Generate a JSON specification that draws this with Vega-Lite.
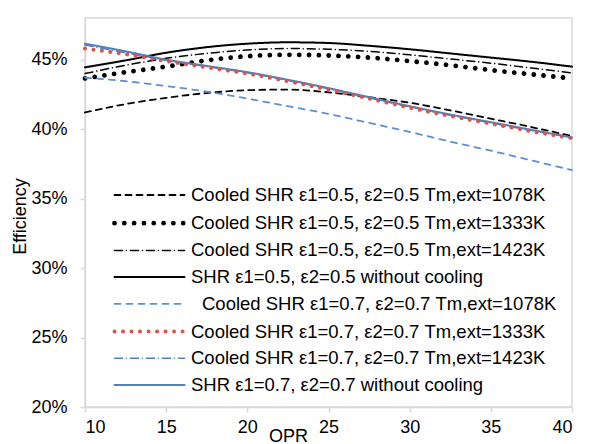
{
  "$schema": "https://vega.github.io/schema/vega-lite/v6.json",
  "width": 487,
  "height": 389,
  "autosize": {"type": "none"},
  "padding": {"left": 85, "top": 18, "right": 19, "bottom": 37},
  "background": "white",
  "config": {
    "view": {"stroke": "#d9d9d9", "strokeWidth": 1.5},
    "font": "Liberation Sans",
    "axis": {
      "grid": false,
      "domainColor": "#d9d9d9",
      "domainWidth": 1.5,
      "tickColor": "#d9d9d9",
      "tickWidth": 1.5,
      "tickSize": 5,
      "labelFont": "Liberation Sans",
      "labelFontSize": 18,
      "labelColor": "#000000",
      "titleFont": "Liberation Sans",
      "titleFontSize": 18,
      "titleFontWeight": "normal",
      "titleColor": "#000000"
    }
  },
  "data": {
    "values": [
      {"opr": 10, "eff": 0.4120, "series": "Cooled SHR ε1=0.5, ε2=0.5 Tm,ext=1078K"},
      {"opr": 12.5, "eff": 0.4180, "series": "Cooled SHR ε1=0.5, ε2=0.5 Tm,ext=1078K"},
      {"opr": 15, "eff": 0.4225, "series": "Cooled SHR ε1=0.5, ε2=0.5 Tm,ext=1078K"},
      {"opr": 17.5, "eff": 0.4260, "series": "Cooled SHR ε1=0.5, ε2=0.5 Tm,ext=1078K"},
      {"opr": 20, "eff": 0.4280, "series": "Cooled SHR ε1=0.5, ε2=0.5 Tm,ext=1078K"},
      {"opr": 22.5, "eff": 0.4285, "series": "Cooled SHR ε1=0.5, ε2=0.5 Tm,ext=1078K"},
      {"opr": 25, "eff": 0.4265, "series": "Cooled SHR ε1=0.5, ε2=0.5 Tm,ext=1078K"},
      {"opr": 27.5, "eff": 0.4230, "series": "Cooled SHR ε1=0.5, ε2=0.5 Tm,ext=1078K"},
      {"opr": 30, "eff": 0.4190, "series": "Cooled SHR ε1=0.5, ε2=0.5 Tm,ext=1078K"},
      {"opr": 32.5, "eff": 0.4135, "series": "Cooled SHR ε1=0.5, ε2=0.5 Tm,ext=1078K"},
      {"opr": 35, "eff": 0.4075, "series": "Cooled SHR ε1=0.5, ε2=0.5 Tm,ext=1078K"},
      {"opr": 37.5, "eff": 0.4015, "series": "Cooled SHR ε1=0.5, ε2=0.5 Tm,ext=1078K"},
      {"opr": 40, "eff": 0.3950, "series": "Cooled SHR ε1=0.5, ε2=0.5 Tm,ext=1078K"},

      {"opr": 10, "eff": 0.4365, "series": "Cooled SHR ε1=0.5, ε2=0.5 Tm,ext=1333K"},
      {"opr": 12.5, "eff": 0.4410, "series": "Cooled SHR ε1=0.5, ε2=0.5 Tm,ext=1333K"},
      {"opr": 15, "eff": 0.4450, "series": "Cooled SHR ε1=0.5, ε2=0.5 Tm,ext=1333K"},
      {"opr": 17.5, "eff": 0.4495, "series": "Cooled SHR ε1=0.5, ε2=0.5 Tm,ext=1333K"},
      {"opr": 20, "eff": 0.4525, "series": "Cooled SHR ε1=0.5, ε2=0.5 Tm,ext=1333K"},
      {"opr": 22.5, "eff": 0.4535, "series": "Cooled SHR ε1=0.5, ε2=0.5 Tm,ext=1333K"},
      {"opr": 25, "eff": 0.4530, "series": "Cooled SHR ε1=0.5, ε2=0.5 Tm,ext=1333K"},
      {"opr": 27.5, "eff": 0.4515, "series": "Cooled SHR ε1=0.5, ε2=0.5 Tm,ext=1333K"},
      {"opr": 30, "eff": 0.4490, "series": "Cooled SHR ε1=0.5, ε2=0.5 Tm,ext=1333K"},
      {"opr": 32.5, "eff": 0.4460, "series": "Cooled SHR ε1=0.5, ε2=0.5 Tm,ext=1333K"},
      {"opr": 35, "eff": 0.4425, "series": "Cooled SHR ε1=0.5, ε2=0.5 Tm,ext=1333K"},
      {"opr": 37.5, "eff": 0.4395, "series": "Cooled SHR ε1=0.5, ε2=0.5 Tm,ext=1333K"},
      {"opr": 40, "eff": 0.4365, "series": "Cooled SHR ε1=0.5, ε2=0.5 Tm,ext=1333K"},

      {"opr": 10, "eff": 0.4400, "series": "Cooled SHR ε1=0.5, ε2=0.5 Tm,ext=1423K"},
      {"opr": 12.5, "eff": 0.4460, "series": "Cooled SHR ε1=0.5, ε2=0.5 Tm,ext=1423K"},
      {"opr": 15, "eff": 0.4510, "series": "Cooled SHR ε1=0.5, ε2=0.5 Tm,ext=1423K"},
      {"opr": 17.5, "eff": 0.4545, "series": "Cooled SHR ε1=0.5, ε2=0.5 Tm,ext=1423K"},
      {"opr": 20, "eff": 0.4570, "series": "Cooled SHR ε1=0.5, ε2=0.5 Tm,ext=1423K"},
      {"opr": 22.5, "eff": 0.4580, "series": "Cooled SHR ε1=0.5, ε2=0.5 Tm,ext=1423K"},
      {"opr": 25, "eff": 0.4575, "series": "Cooled SHR ε1=0.5, ε2=0.5 Tm,ext=1423K"},
      {"opr": 27.5, "eff": 0.4560, "series": "Cooled SHR ε1=0.5, ε2=0.5 Tm,ext=1423K"},
      {"opr": 30, "eff": 0.4535, "series": "Cooled SHR ε1=0.5, ε2=0.5 Tm,ext=1423K"},
      {"opr": 32.5, "eff": 0.4505, "series": "Cooled SHR ε1=0.5, ε2=0.5 Tm,ext=1423K"},
      {"opr": 35, "eff": 0.4475, "series": "Cooled SHR ε1=0.5, ε2=0.5 Tm,ext=1423K"},
      {"opr": 37.5, "eff": 0.4440, "series": "Cooled SHR ε1=0.5, ε2=0.5 Tm,ext=1423K"},
      {"opr": 40, "eff": 0.4405, "series": "Cooled SHR ε1=0.5, ε2=0.5 Tm,ext=1423K"},

      {"opr": 10, "eff": 0.4445, "series": "SHR ε1=0.5, ε2=0.5 without cooling"},
      {"opr": 12.5, "eff": 0.4495, "series": "SHR ε1=0.5, ε2=0.5 without cooling"},
      {"opr": 15, "eff": 0.4550, "series": "SHR ε1=0.5, ε2=0.5 without cooling"},
      {"opr": 17.5, "eff": 0.4590, "series": "SHR ε1=0.5, ε2=0.5 without cooling"},
      {"opr": 20, "eff": 0.4615, "series": "SHR ε1=0.5, ε2=0.5 without cooling"},
      {"opr": 22.5, "eff": 0.4625, "series": "SHR ε1=0.5, ε2=0.5 without cooling"},
      {"opr": 25, "eff": 0.4620, "series": "SHR ε1=0.5, ε2=0.5 without cooling"},
      {"opr": 27.5, "eff": 0.4600, "series": "SHR ε1=0.5, ε2=0.5 without cooling"},
      {"opr": 30, "eff": 0.4575, "series": "SHR ε1=0.5, ε2=0.5 without cooling"},
      {"opr": 32.5, "eff": 0.4545, "series": "SHR ε1=0.5, ε2=0.5 without cooling"},
      {"opr": 35, "eff": 0.4515, "series": "SHR ε1=0.5, ε2=0.5 without cooling"},
      {"opr": 37.5, "eff": 0.4485, "series": "SHR ε1=0.5, ε2=0.5 without cooling"},
      {"opr": 40, "eff": 0.4450, "series": "SHR ε1=0.5, ε2=0.5 without cooling"},

      {"opr": 10, "eff": 0.4370, "series": "Cooled SHR ε1=0.7, ε2=0.7 Tm,ext=1078K"},
      {"opr": 12.5, "eff": 0.4345, "series": "Cooled SHR ε1=0.7, ε2=0.7 Tm,ext=1078K"},
      {"opr": 15, "eff": 0.4310, "series": "Cooled SHR ε1=0.7, ε2=0.7 Tm,ext=1078K"},
      {"opr": 17.5, "eff": 0.4270, "series": "Cooled SHR ε1=0.7, ε2=0.7 Tm,ext=1078K"},
      {"opr": 20, "eff": 0.4220, "series": "Cooled SHR ε1=0.7, ε2=0.7 Tm,ext=1078K"},
      {"opr": 22.5, "eff": 0.4165, "series": "Cooled SHR ε1=0.7, ε2=0.7 Tm,ext=1078K"},
      {"opr": 25, "eff": 0.4110, "series": "Cooled SHR ε1=0.7, ε2=0.7 Tm,ext=1078K"},
      {"opr": 27.5, "eff": 0.4045, "series": "Cooled SHR ε1=0.7, ε2=0.7 Tm,ext=1078K"},
      {"opr": 30, "eff": 0.3980, "series": "Cooled SHR ε1=0.7, ε2=0.7 Tm,ext=1078K"},
      {"opr": 32.5, "eff": 0.3910, "series": "Cooled SHR ε1=0.7, ε2=0.7 Tm,ext=1078K"},
      {"opr": 35, "eff": 0.3845, "series": "Cooled SHR ε1=0.7, ε2=0.7 Tm,ext=1078K"},
      {"opr": 37.5, "eff": 0.3775, "series": "Cooled SHR ε1=0.7, ε2=0.7 Tm,ext=1078K"},
      {"opr": 40, "eff": 0.3705, "series": "Cooled SHR ε1=0.7, ε2=0.7 Tm,ext=1078K"},

      {"opr": 10, "eff": 0.4605, "series": "Cooled SHR ε1=0.7, ε2=0.7 Tm,ext=1423K"},
      {"opr": 12.5, "eff": 0.4550, "series": "Cooled SHR ε1=0.7, ε2=0.7 Tm,ext=1423K"},
      {"opr": 15, "eff": 0.4495, "series": "Cooled SHR ε1=0.7, ε2=0.7 Tm,ext=1423K"},
      {"opr": 17.5, "eff": 0.4450, "series": "Cooled SHR ε1=0.7, ε2=0.7 Tm,ext=1423K"},
      {"opr": 20, "eff": 0.4405, "series": "Cooled SHR ε1=0.7, ε2=0.7 Tm,ext=1423K"},
      {"opr": 22.5, "eff": 0.4350, "series": "Cooled SHR ε1=0.7, ε2=0.7 Tm,ext=1423K"},
      {"opr": 25, "eff": 0.4290, "series": "Cooled SHR ε1=0.7, ε2=0.7 Tm,ext=1423K"},
      {"opr": 27.5, "eff": 0.4225, "series": "Cooled SHR ε1=0.7, ε2=0.7 Tm,ext=1423K"},
      {"opr": 30, "eff": 0.4160, "series": "Cooled SHR ε1=0.7, ε2=0.7 Tm,ext=1423K"},
      {"opr": 32.5, "eff": 0.4100, "series": "Cooled SHR ε1=0.7, ε2=0.7 Tm,ext=1423K"},
      {"opr": 35, "eff": 0.4045, "series": "Cooled SHR ε1=0.7, ε2=0.7 Tm,ext=1423K"},
      {"opr": 37.5, "eff": 0.3990, "series": "Cooled SHR ε1=0.7, ε2=0.7 Tm,ext=1423K"},
      {"opr": 40, "eff": 0.3940, "series": "Cooled SHR ε1=0.7, ε2=0.7 Tm,ext=1423K"},

      {"opr": 10, "eff": 0.4615, "series": "SHR ε1=0.7, ε2=0.7 without cooling"},
      {"opr": 12.5, "eff": 0.4560, "series": "SHR ε1=0.7, ε2=0.7 without cooling"},
      {"opr": 15, "eff": 0.4500, "series": "SHR ε1=0.7, ε2=0.7 without cooling"},
      {"opr": 17.5, "eff": 0.4455, "series": "SHR ε1=0.7, ε2=0.7 without cooling"},
      {"opr": 20, "eff": 0.4410, "series": "SHR ε1=0.7, ε2=0.7 without cooling"},
      {"opr": 22.5, "eff": 0.4355, "series": "SHR ε1=0.7, ε2=0.7 without cooling"},
      {"opr": 25, "eff": 0.4295, "series": "SHR ε1=0.7, ε2=0.7 without cooling"},
      {"opr": 27.5, "eff": 0.4230, "series": "SHR ε1=0.7, ε2=0.7 without cooling"},
      {"opr": 30, "eff": 0.4165, "series": "SHR ε1=0.7, ε2=0.7 without cooling"},
      {"opr": 32.5, "eff": 0.4105, "series": "SHR ε1=0.7, ε2=0.7 without cooling"},
      {"opr": 35, "eff": 0.4050, "series": "SHR ε1=0.7, ε2=0.7 without cooling"},
      {"opr": 37.5, "eff": 0.3995, "series": "SHR ε1=0.7, ε2=0.7 without cooling"},
      {"opr": 40, "eff": 0.3940, "series": "SHR ε1=0.7, ε2=0.7 without cooling"},

      {"opr": 10, "eff": 0.4580, "series": "Cooled SHR ε1=0.7, ε2=0.7 Tm,ext=1333K"},
      {"opr": 12.5, "eff": 0.4540, "series": "Cooled SHR ε1=0.7, ε2=0.7 Tm,ext=1333K"},
      {"opr": 15, "eff": 0.4490, "series": "Cooled SHR ε1=0.7, ε2=0.7 Tm,ext=1333K"},
      {"opr": 17.5, "eff": 0.4445, "series": "Cooled SHR ε1=0.7, ε2=0.7 Tm,ext=1333K"},
      {"opr": 20, "eff": 0.4400, "series": "Cooled SHR ε1=0.7, ε2=0.7 Tm,ext=1333K"},
      {"opr": 22.5, "eff": 0.4345, "series": "Cooled SHR ε1=0.7, ε2=0.7 Tm,ext=1333K"},
      {"opr": 25, "eff": 0.4285, "series": "Cooled SHR ε1=0.7, ε2=0.7 Tm,ext=1333K"},
      {"opr": 27.5, "eff": 0.4220, "series": "Cooled SHR ε1=0.7, ε2=0.7 Tm,ext=1333K"},
      {"opr": 30, "eff": 0.4155, "series": "Cooled SHR ε1=0.7, ε2=0.7 Tm,ext=1333K"},
      {"opr": 32.5, "eff": 0.4095, "series": "Cooled SHR ε1=0.7, ε2=0.7 Tm,ext=1333K"},
      {"opr": 35, "eff": 0.4040, "series": "Cooled SHR ε1=0.7, ε2=0.7 Tm,ext=1333K"},
      {"opr": 37.5, "eff": 0.3985, "series": "Cooled SHR ε1=0.7, ε2=0.7 Tm,ext=1333K"},
      {"opr": 40, "eff": 0.3935, "series": "Cooled SHR ε1=0.7, ε2=0.7 Tm,ext=1333K"}
    ]
  },
  "mark": {"type": "line", "strokeCap": "round", "interpolate": "monotone"},
  "encoding": {
    "x": {
      "field": "opr",
      "type": "quantitative",
      "scale": {"domain": [10, 40], "nice": false, "zero": false},
      "axis": {
        "values": [10, 15, 20, 25, 30, 35, 40],
        "title": "OPR",
        "labelPadding": 6,
        "titleX": 203,
        "titleY": 20,
        "titleAlign": "center",
        "titleBaseline": "top"
      }
    },
    "y": {
      "field": "eff",
      "type": "quantitative",
      "scale": {"domain": [0.2, 0.48], "nice": false, "zero": false},
      "axis": {
        "values": [0.2, 0.25, 0.3, 0.35, 0.4, 0.45],
        "format": ".0%",
        "title": "Efficiency",
        "labelPadding": 13,
        "titleX": -65,
        "titleY": 198,
        "titleAlign": "center",
        "titleBaseline": "middle",
        "titleAngle": 270
      }
    },
    "color": {
      "field": "series",
      "type": "ordinal",
      "scale": {
        "type": "ordinal",
        "domain": [
          "Cooled SHR ε1=0.5, ε2=0.5 Tm,ext=1078K",
          "Cooled SHR ε1=0.5, ε2=0.5 Tm,ext=1333K",
          "Cooled SHR ε1=0.5, ε2=0.5 Tm,ext=1423K",
          "SHR ε1=0.5, ε2=0.5 without cooling",
          "Cooled SHR ε1=0.7, ε2=0.7 Tm,ext=1078K",
          "Cooled SHR ε1=0.7, ε2=0.7 Tm,ext=1333K",
          "Cooled SHR ε1=0.7, ε2=0.7 Tm,ext=1423K",
          "SHR ε1=0.7, ε2=0.7 without cooling"
        ],
        "range": ["#000000", "#000000", "#000000", "#000000", "#5b8fd6", "#d9534f", "#4f81bd", "#4f81bd"]
      },
      "legend": {
        "orient": "none",
        "legendX": 52,
        "legendY": 166,
        "title": null,
        "padding": 0,
        "symbolType": "M-3.5,0H3.5",
        "symbolSize": 400,
        "labelFont": "Liberation Sans",
        "labelFontSize": 18.5,
        "labelColor": "#000000",
        "labelOffset": 29,
        "labelLimit": 0,
        "rowPadding": 5.7,
        "encode": {
          "symbols": {"update": {"strokeCap": {"value": "round"}}},
          "labels": {"update": {"dx": {"signal": "indexof(datum.label, '1078K') >= 0 && indexof(datum.label, '0.7') >= 0 ? 11 : 0"}}}
        }
      }
    },
    "strokeDash": {
      "field": "series",
      "type": "ordinal",
      "scale": {
        "type": "ordinal",
        "domain": [
          "Cooled SHR ε1=0.5, ε2=0.5 Tm,ext=1078K",
          "Cooled SHR ε1=0.5, ε2=0.5 Tm,ext=1333K",
          "Cooled SHR ε1=0.5, ε2=0.5 Tm,ext=1423K",
          "SHR ε1=0.5, ε2=0.5 without cooling",
          "Cooled SHR ε1=0.7, ε2=0.7 Tm,ext=1078K",
          "Cooled SHR ε1=0.7, ε2=0.7 Tm,ext=1333K",
          "Cooled SHR ε1=0.7, ε2=0.7 Tm,ext=1423K",
          "SHR ε1=0.7, ε2=0.7 without cooling"
        ],
        "range": [[6, 5], [0.01, 9.8], [8, 4, 0.01, 4], [1, 0], [6, 6], [0.01, 8.5], [8, 4, 0.01, 4], [1, 0]]
      }
    },
    "strokeWidth": {
      "field": "series",
      "type": "ordinal",
      "scale": {
        "type": "ordinal",
        "domain": [
          "Cooled SHR ε1=0.5, ε2=0.5 Tm,ext=1078K",
          "Cooled SHR ε1=0.5, ε2=0.5 Tm,ext=1333K",
          "Cooled SHR ε1=0.5, ε2=0.5 Tm,ext=1423K",
          "SHR ε1=0.5, ε2=0.5 without cooling",
          "Cooled SHR ε1=0.7, ε2=0.7 Tm,ext=1078K",
          "Cooled SHR ε1=0.7, ε2=0.7 Tm,ext=1333K",
          "Cooled SHR ε1=0.7, ε2=0.7 Tm,ext=1423K",
          "SHR ε1=0.7, ε2=0.7 without cooling"
        ],
        "range": [1.8, 4.8, 1.5, 2, 1.8, 4, 1.5, 2]
      }
    }
  }
}
